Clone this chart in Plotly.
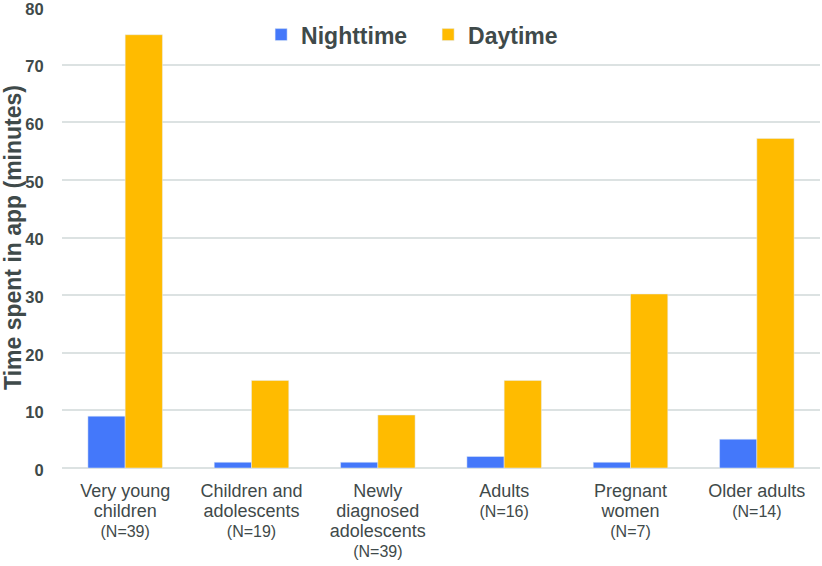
import plotly.graph_objects as go

group_names = [
    ["Very young", "children"],
    ["Children and", "adolescents"],
    ["Newly", "diagnosed", "adolescents"],
    ["Adults"],
    ["Pregnant", "women"],
    ["Older adults"],
]
group_sizes = [39, 19, 39, 16, 7, 14]
nighttime = [9, 1, 1, 2, 1, 5]
daytime = [75.2, 15.2, 9.2, 15.2, 30.2, 57.2]

categories = [
    "<br>".join(f"<span style='font-size:18px'>{line}</span>" for line in name)
    + f"<br><span style='font-size:16px'>(N={n})</span>"
    for name, n in zip(group_names, group_sizes)
]

text_color = "#3F4A4A"
grid_color = "#DCE2E2"

fig = go.Figure()
fig.add_trace(go.Bar(name="Nighttime", x=categories, y=nighttime, marker_color="#4478FA"))
fig.add_trace(go.Bar(name="Daytime", x=categories, y=daytime, marker_color="#FFBB00"))

fig.update_layout(
    width=822, height=566,
    margin=dict(l=62, r=2, t=7, b=98),
    plot_bgcolor="white", paper_bgcolor="white",
    barmode="group", bargap=0.41, bargroupgap=0,
    font=dict(family="Liberation Sans, Arial", color=text_color, size=17),
    legend=dict(orientation="h", x=0.483, xanchor="center", y=0.94, yanchor="middle",
                font=dict(size=23, color=text_color, family="Liberation Sans, Arial", weight="bold"),
                itemwidth=30, entrywidth=122, bgcolor="rgba(0,0,0,0)"),
    xaxis=dict(showgrid=False, showline=False, ticks="", automargin=False,
               ticklabelstandoff=12,
               tickfont=dict(size=15.6, color=text_color)),
    yaxis=dict(range=[0, 80.01], tickvals=[0, 10, 20, 30, 40, 50, 60, 70, 80],
               showgrid=True, gridcolor=grid_color, gridwidth=2, automargin=False,
               zeroline=True, zerolinecolor=grid_color, zerolinewidth=2,
               ticks="outside", ticklen=14, tickcolor="rgba(0,0,0,0)",
               ticklabeloverflow="allow", ticklabelshift=2,
               tickfont=dict(size=16.5, color=text_color, weight="bold"),
               title=dict(text="<b>Time spent in app (minutes)</b>", font=dict(size=23, color=text_color), standoff=2)),
)
fig.write_html("out.html", config={"displayModeBar": False},
               post_script="document.body.style.margin='0';")
